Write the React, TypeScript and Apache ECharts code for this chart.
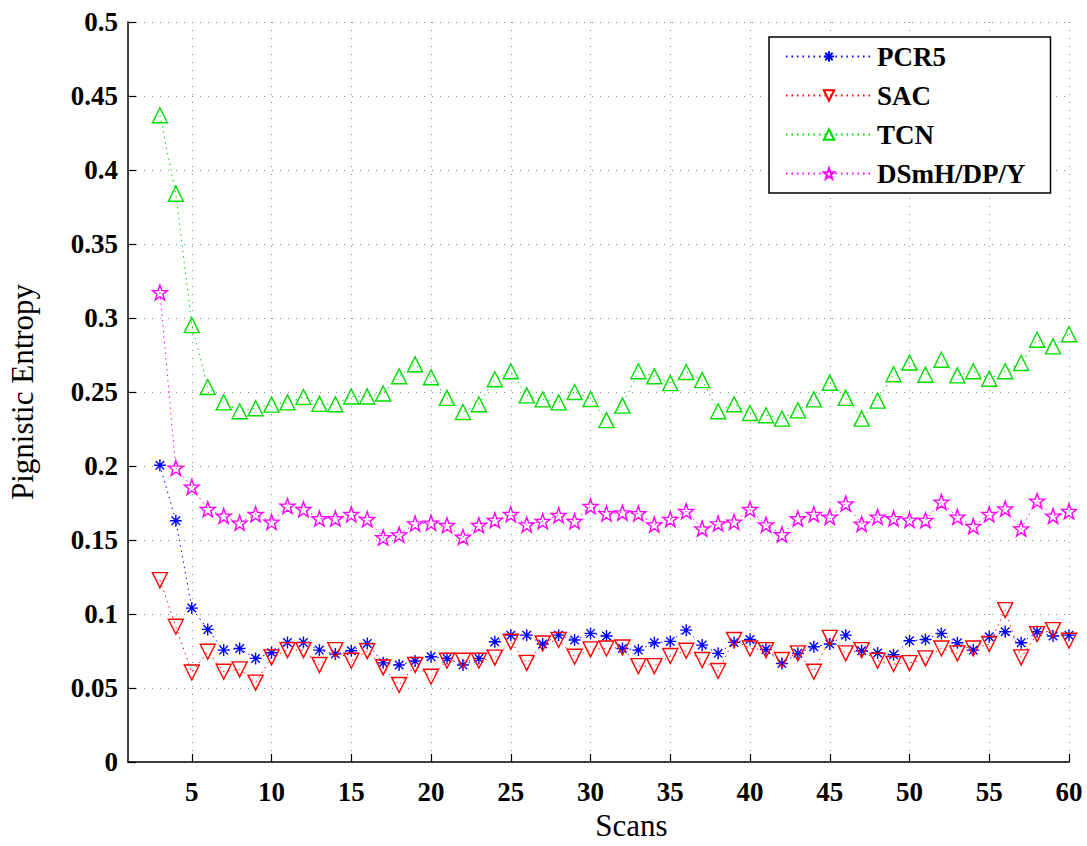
import React, { useEffect, useRef } from "react";
import * as echarts from "echarts";

const scans = [3, 4, 5, 6, 7, 8, 9, 10, 11, 12, 13, 14, 15, 16, 17, 18, 19, 20, 21, 22, 23, 24, 25, 26, 27, 28, 29, 30, 31, 32, 33, 34, 35, 36, 37, 38, 39, 40, 41, 42, 43, 44, 45, 46, 47, 48, 49, 50, 51, 52, 53, 54, 55, 56, 57, 58, 59, 60];

const pcr5 = [0.2005, 0.163, 0.104, 0.0896, 0.0756, 0.0767, 0.07, 0.0738, 0.0808, 0.0808, 0.0756, 0.0729, 0.0752, 0.0801, 0.067, 0.0655, 0.0682, 0.0711, 0.07, 0.0655, 0.07, 0.0812, 0.0857, 0.0857, 0.0797, 0.0857, 0.0824, 0.0869, 0.0851, 0.0767, 0.0756, 0.0806, 0.0815, 0.0891, 0.079, 0.0734, 0.0808, 0.0828, 0.0761, 0.0666, 0.0734, 0.0779, 0.0797, 0.0857, 0.0752, 0.0736, 0.0725, 0.0819, 0.0828, 0.0869, 0.0806, 0.0756, 0.0846, 0.088, 0.0806, 0.088, 0.0851, 0.0857];

const sac = [0.1229, 0.0914, 0.0605, 0.0745, 0.061, 0.0626, 0.0536, 0.0707, 0.0756, 0.0756, 0.0655, 0.0756, 0.0684, 0.0749, 0.0639, 0.052, 0.0655, 0.0576, 0.0684, 0.0684, 0.0684, 0.0705, 0.0812, 0.067, 0.0801, 0.0824, 0.0711, 0.0761, 0.0767, 0.0774, 0.0648, 0.0648, 0.0716, 0.0752, 0.0689, 0.0615, 0.0824, 0.0767, 0.0756, 0.0689, 0.0734, 0.061, 0.0839, 0.0734, 0.0756, 0.0684, 0.0662, 0.0668, 0.07, 0.0767, 0.0734, 0.0767, 0.0797, 0.1026, 0.0707, 0.0864, 0.0891, 0.0819];

const tcn = [0.437, 0.384, 0.2952, 0.2534, 0.243, 0.237, 0.239, 0.2415, 0.243, 0.2466, 0.242, 0.2417, 0.247, 0.247, 0.249, 0.2606, 0.2687, 0.26, 0.246, 0.2365, 0.2417, 0.2586, 0.264, 0.2477, 0.245, 0.243, 0.25, 0.2453, 0.231, 0.2408, 0.264, 0.2606, 0.256, 0.2635, 0.258, 0.237, 0.2417, 0.2358, 0.2343, 0.232, 0.2376, 0.245, 0.2563, 0.246, 0.232, 0.2442, 0.262, 0.2699, 0.2617, 0.2718, 0.2612, 0.264, 0.259, 0.264, 0.2696, 0.2853, 0.2808, 0.289];

const dsmh = [0.3173, 0.1987, 0.1859, 0.1708, 0.1663, 0.1616, 0.1674, 0.1622, 0.173, 0.1708, 0.1645, 0.1645, 0.1674, 0.164, 0.1517, 0.1536, 0.1611, 0.1616, 0.16, 0.152, 0.16, 0.1634, 0.1674, 0.1604, 0.1627, 0.1667, 0.1627, 0.1728, 0.1679, 0.1685, 0.1679, 0.1604, 0.1641, 0.1694, 0.1577, 0.1611, 0.1622, 0.1708, 0.1604, 0.1537, 0.1645, 0.1674, 0.1656, 0.1746, 0.1609, 0.1656, 0.1645, 0.1636, 0.1634, 0.1757, 0.1656, 0.1593, 0.1674, 0.1712, 0.1577, 0.1764, 0.1663, 0.1694];

const seriesNames = ["PCR5", "SAC", "TCN", "DSmH/DP/Y"];
const xAxisName = "Scans";
const yAxisName = "Pignistic Entropy";

const ASTERISK = "path://M-10,0L10,0M0,-10L0,10M-7.1,-7.1L7.1,7.1M-7.1,7.1L7.1,-7.1";
const STAR =
  "path://M0,-10L2.35,-3.24L9.51,-3.09L3.8,1.24L5.88,8.09L0,4L-5.88,8.09L-3.8,1.24L-9.51,-3.09L-2.35,-3.24Z";

const SERIF = "'Liberation Serif', 'Times New Roman', serif";

function pairs(values: number[]) {
  return scans.map((x, i) => [x, values[i]]);
}

export default function App() {
  const ref = useRef<HTMLDivElement>(null);

  useEffect(() => {
    if (!ref.current) return;
    const chart = echarts.init(ref.current, null, { renderer: "svg" });
    const dotted = [1.5, 4];
    const mk = (
      name: string,
      values: number[],
      color: string,
      symbol: string,
      size: number,
      rotate: number
    ) => ({
      name,
      type: "line",
      data: pairs(values),
      symbol,
      symbolSize: size,
      symbolRotate: rotate,
      showAllSymbol: true,
      lineStyle: { color, width: 1, type: dotted },
      itemStyle: { color: "rgba(255,255,255,0)", borderColor: color, borderWidth: 1.4 },
      emphasis: { disabled: true },
      z: 3,
    });

    chart.setOption({
      animation: false,
      backgroundColor: "#ffffff",
      grid: { left: 128, right: 18, top: 22, bottom: 84, containLabel: false, outerBoundsMode: "none" },
      legend: {
        orient: "vertical",
        left: 769,
        top: 37,
        padding: [6, 25, 6, 16],
        itemWidth: 86,
        itemHeight: 13,
        itemGap: 12,
        backgroundColor: "#ffffff",
        borderColor: "#000000",
        borderWidth: 1.5,
        borderRadius: 0,
        textStyle: { fontFamily: SERIF, fontWeight: "bold", fontSize: 27, color: "#000" },
        data: seriesNames,
      },
      xAxis: {
        type: "value",
        min: 1,
        max: 60,
        minInterval: 5,
        maxInterval: 5,
        name: xAxisName,
        nameLocation: "middle",
        nameGap: 48,
        nameTextStyle: { fontFamily: SERIF, fontSize: 31, color: "#000", padding: [0, 0, 0, 66] },
        axisLine: { show: true, onZero: false, lineStyle: { color: "#000", width: 1.5 } },
        axisTick: { show: true, inside: true, length: 8, lineStyle: { color: "#000", width: 1.2 } },
        axisLabel: {
          showMinLabel: false,
          margin: 16,
          fontFamily: SERIF,
          fontWeight: "bold",
          fontSize: 27,
          color: "#000",
        },
        splitLine: { show: true, lineStyle: { color: "#888", width: 1, type: [1, 7] } },
      },
      yAxis: {
        type: "value",
        min: 0,
        max: 0.5,
        interval: 0.05,
        name: yAxisName,
        nameLocation: "middle",
        nameGap: 90,
        nameTextStyle: { fontFamily: SERIF, fontSize: 31, color: "#000" },
        axisLine: { show: true, onZero: false, lineStyle: { color: "#000", width: 1.5 } },
        axisTick: { show: true, inside: true, length: 8, lineStyle: { color: "#000", width: 1.2 } },
        axisLabel: {
          margin: 10,
          fontFamily: SERIF,
          fontWeight: "bold",
          fontSize: 27,
          color: "#000",
          formatter: (v: number) => String(Math.round(v * 100) / 100),
        },
        splitLine: { show: true, lineStyle: { color: "#888", width: 1, type: [1, 7] } },
      },
      series: [
        mk(seriesNames[0], pcr5, "#0000ff", ASTERISK, 12, 0),
        mk(seriesNames[1], sac, "#ff0000", "triangle", 15, 180),
        mk(seriesNames[2], tcn, "#00dd00", "triangle", 15, 0),
        mk(seriesNames[3], dsmh, "#ff00ff", STAR, 15, 0),
      ],
    });
    return () => chart.dispose();
  }, []);

  return (
    <div
      ref={ref}
      style={{ position: "absolute", left: 0, top: 0, width: 1087, height: 846, background: "#fff" }}
    />
  );
}
